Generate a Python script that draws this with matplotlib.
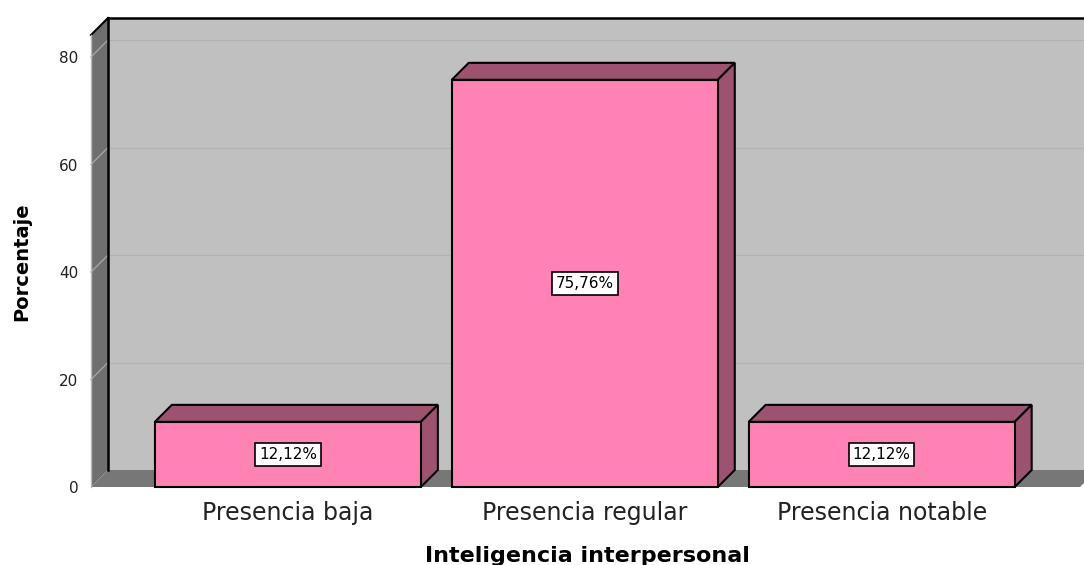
import numpy as np
import matplotlib
matplotlib.use("Agg")
import matplotlib.pyplot as plt
from matplotlib.patches import Polygon, Rectangle

# datos del grafico
categorias = ["Presencia baja", "Presencia regular", "Presencia notable"]
porcentajes = [12.12, 75.76, 12.12]
yticks = [0, 20, 40, 60, 80]

fig = plt.figure(figsize=(10.84, 5.65), dpi=100)
W, H = 1084, 565
ax = fig.add_axes([91 / W, 78 / H, (1080 - 91) / W, (530 - 78) / H])
ax.set_xlim(-0.663, 2.668)
ax.set_ylim(0, 84.1)
ax.patch.set_visible(False)
for s in ax.spines.values():
    s.set_visible(False)

# profundidad 3D: pixeles -> unidades de datos
inv = ax.transData.inverted()
p0 = inv.transform(ax.transData.transform((0, 0)))
p1 = inv.transform(ax.transData.transform((0, 0)) + np.array([17, 17]))
ddx, ddy = p1 - p0
xmin, xmax = ax.get_xlim()
ytop = ax.get_ylim()[1]

def poly(pts, fc, ec="none", lw=0, z=1):
    ax.add_patch(Polygon(pts, closed=True, facecolor=fc, edgecolor=ec,
                         linewidth=lw, zorder=z, clip_on=False))

# pared del fondo
poly([(xmin + ddx, ddy), (xmax + 2 * ddx, ddy), (xmax + 2 * ddx, ytop + ddy),
      (xmin + ddx, ytop + ddy)], "#c0c0c0", z=1)
for v in yticks[1:]:
    ax.plot([xmin + ddx, xmax + 2 * ddx], [v + ddy, v + ddy], color="#b2b2b2",
            lw=0.9, zorder=2, clip_on=False)
ax.plot([xmin + ddx, xmax + 2 * ddx], [ytop + ddy, ytop + ddy], color="black",
        lw=1.8, zorder=3, clip_on=False)

# pared izquierda
poly([(xmin, 0), (xmin, ytop), (xmin + ddx, ytop + ddy), (xmin + ddx, ddy)],
     "#6f6f6f", z=3)
for v in yticks[1:]:
    ax.plot([xmin, xmin + ddx], [v, v + ddy], color="#a4a4a4", lw=1,
            zorder=4, clip_on=False)
ax.plot([xmin + ddx, xmin + ddx], [ddy, ytop + ddy], color="black", lw=1.8,
        zorder=4, clip_on=False)
ax.plot([xmin, xmin + ddx], [ytop, ytop + ddy], color="black", lw=1.5,
        zorder=4, clip_on=False)
ax.plot([xmin, xmin], [0, ytop], color="#b8b8b8", lw=1, zorder=4, clip_on=False)

# piso
poly([(xmin, 0), (xmax, 0), (xmax + ddx, ddy), (xmin + ddx, ddy)], "#777777", z=3)

# barras
ancho = 0.896
for i, v in enumerate(porcentajes):
    xl, xr = i - ancho / 2, i + ancho / 2
    poly([(xl, v), (xr, v), (xr + ddx, v + ddy), (xl + ddx, v + ddy)],
         "#9c5270", "black", 1.5, z=5)
    poly([(xr, 0), (xr + ddx, ddy), (xr + ddx, v + ddy), (xr, v)],
         "#9c5270", "black", 1.5, z=5)
    ax.add_patch(Rectangle((xl, 0), ancho, v, facecolor="#ff82b4",
                           edgecolor="black", linewidth=1.5, zorder=6, clip_on=False))
    etiqueta = f"{v:.2f}".replace(".", ",") + "%"
    ax.text(i, v / 2, etiqueta, ha="center", va="center", fontsize=11, zorder=7,
            bbox=dict(boxstyle="square,pad=0.25", facecolor="white",
                      edgecolor="black", linewidth=1.2))

# ejes
ax.set_xticks(range(len(categorias)))
ax.set_xticklabels(categorias, fontsize=17, color="#222222")
ax.set_yticks(yticks)
ax.set_yticklabels([str(t) for t in yticks], fontsize=11, color="#222222")
ax.tick_params(axis="x", length=0, pad=10)
ax.tick_params(axis="y", length=0, pad=9)

fig.text(587 / W, 3 / H, "Inteligencia interpersonal", ha="center",
         va="baseline", fontsize=16, fontweight="bold")
fig.text(22 / W, 1 - 262 / H, "Porcentaje", ha="center", va="center",
         rotation=90, fontsize=14, fontweight="bold")

fig.savefig("out.png", dpi=100)
